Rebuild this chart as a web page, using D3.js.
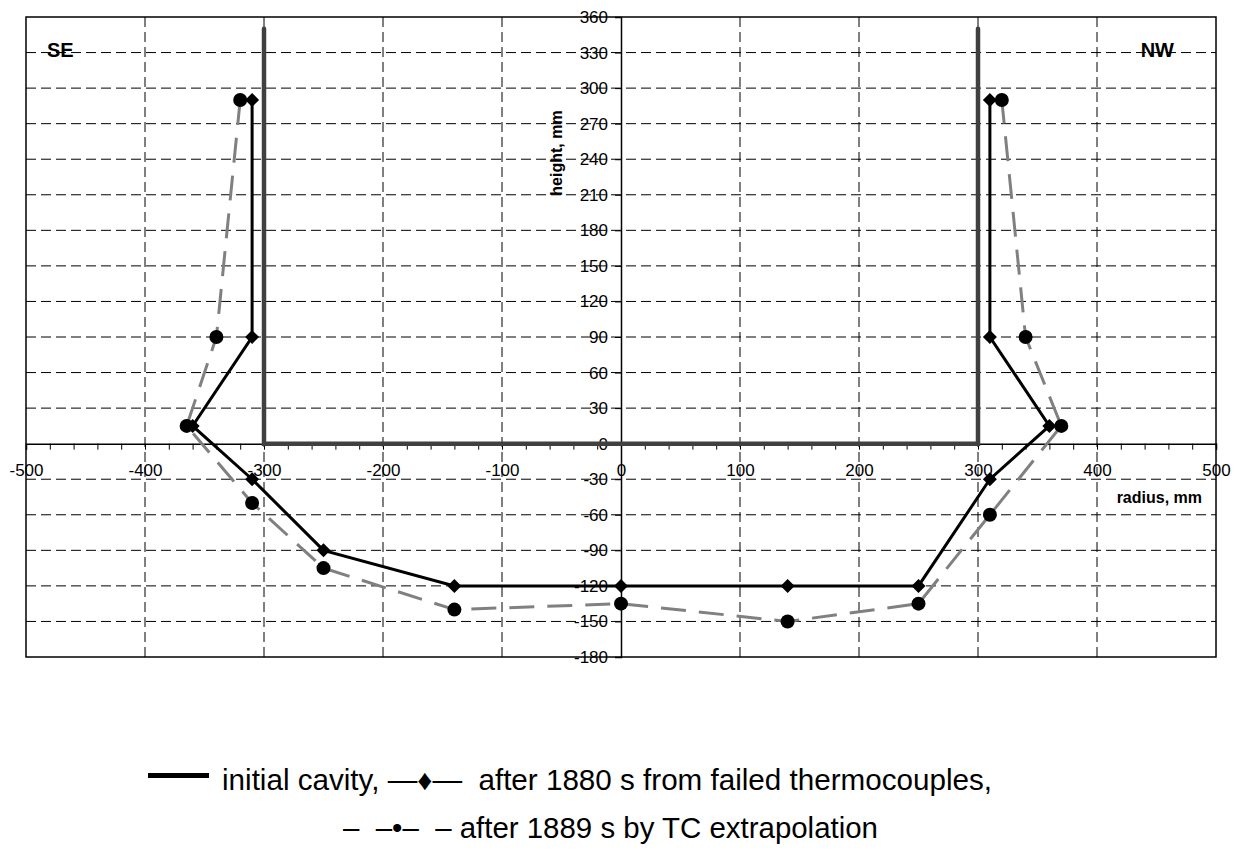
<!DOCTYPE html>
<html>
<head>
<meta charset="utf-8">
<script src="https://cdn.jsdelivr.net/npm/d3@7"></script>
<style>
  html, body { margin: 0; padding: 0; background: #fff; }
  svg { display: block; }
  text { font-family: "Liberation Sans", Arial, sans-serif; }
</style>
</head>
<body>
<svg id="chart" width="1242" height="851"></svg>
<script>
// ---- data ----
const xTicks = [-500, -400, -300, -200, -100, 0, 100, 200, 300, 400, 500];
const yTicks = [-180, -150, -120, -90, -60, -30, 0, 30, 60, 90, 120, 150, 180, 210, 240, 270, 300, 330, 360];

const cavityR = [-300, -300, 300, 300];
const cavityH = [350, 0, 0, 350];

const tcR = [-310, -310, -360, -310, -250, -140, 0, 140, 250, 310, 360, 310, 310];
const tcH = [290, 90, 15, -30, -90, -120, -120, -120, -120, -30, 15, 90, 290];

const exR = [-320, -340, -365, -310, -250, -140, 0, 140, 250, 310, 370, 340, 320];
const exH = [290, 90, 15, -50, -105, -140, -135, -150, -135, -60, 15, 90, 290];

const legendLine1 = "initial cavity, \u2014\u2666\u2014  after 1880 s from failed thermocouples,";
const legendLine2 = "\u2013  \u2013\u2022\u2013  \u2013 after 1889 s by TC extrapolation";

// ---- layout ----
const L = 26, R = 1216, T = 17, B = 657;
const svg = d3.select("#chart");
const x = d3.scaleLinear().domain([-500, 500]).range([L, R]);
const y = d3.scaleLinear().domain([-180, 360]).range([B, T]);
const fmt = d => String(d);

// grid
const grid = svg.append("g").attr("stroke", "#000").attr("stroke-width", 1).attr("stroke-dasharray", "10,5");
grid.selectAll("line.h").data(yTicks.filter(v => v !== 0 && v !== 360 && v !== -180)).enter()
  .append("line").attr("x1", L).attr("x2", R).attr("y1", d => y(d)).attr("y2", d => y(d));
grid.selectAll("line.v").data(xTicks.filter(v => v !== 0 && v !== -500 && v !== 500)).enter()
  .append("line").attr("y1", T).attr("y2", B).attr("x1", d => x(d)).attr("x2", d => x(d));

// frame
svg.append("rect").attr("x", L).attr("y", T).attr("width", R - L).attr("height", B - T)
  .attr("fill", "none").attr("stroke", "#000").attr("stroke-width", 1.5);

// x axis (minor ticks every 20)
const minor = d3.range(-500, 501, 20);
const xAxisMinor = d3.axisBottom(x).tickValues(minor).tickSize(6).tickFormat("");
const gxm = svg.append("g").attr("transform", `translate(0,${y(0)})`).call(xAxisMinor);
gxm.select(".domain").attr("stroke", "#000").attr("stroke-width", 1.5);
gxm.selectAll(".tick line").attr("stroke", "#000").attr("stroke-width", 1);

const xAxis = d3.axisBottom(x).tickValues(xTicks).tickSize(0).tickPadding(20).tickFormat(fmt);
const gx = svg.append("g").attr("transform", `translate(0,${y(0)})`).call(xAxis);
gx.select(".domain").remove();
gx.selectAll("text").attr("font-size", 17).attr("fill", "#000")
  .style("font-family", '"Liberation Sans", Arial, sans-serif');

// y axis
const yAxis = d3.axisLeft(y).tickValues(yTicks).tickSize(6).tickPadding(7).tickFormat(fmt);
const gy = svg.append("g").attr("transform", `translate(${x(0)},0)`).call(yAxis);
gy.select(".domain").attr("stroke", "#000").attr("stroke-width", 1.5);
gy.selectAll(".tick line").attr("stroke", "#000");
gy.selectAll("text").attr("font-size", 17).attr("fill", "#000")
  .style("font-family", '"Liberation Sans", Arial, sans-serif');

// axis titles
svg.append("text").attr("transform", `translate(${x(0) - 59},${153}) rotate(-90)`)
  .attr("text-anchor", "middle").attr("font-weight", "bold").attr("font-size", 16).text("height, mm");
svg.append("text").attr("x", 1202).attr("y", 503).attr("text-anchor", "end")
  .attr("font-weight", "bold").attr("font-size", 16).text("radius, mm");

// SE / NW
svg.append("text").attr("x", 47).attr("y", 57).attr("font-weight", "bold").attr("font-size", 20).text("SE");
svg.append("text").attr("x", 1174).attr("y", 57).attr("text-anchor", "end").attr("font-weight", "bold").attr("font-size", 20).text("NW");

// initial cavity
const cav = d3.range(cavityR.length).map(i => [cavityR[i], cavityH[i]]);
const line = d3.line().x(d => x(d[0])).y(d => y(d[1]));
svg.append("path").attr("d", line(cav)).attr("fill", "none").attr("stroke", "#404040")
  .attr("stroke-width", 4.5).attr("stroke-linecap", "round").attr("stroke-linejoin", "miter");

// extrapolation (gray dashed)
const ex = d3.range(exR.length).map(i => [exR[i], exH[i]]);
svg.append("path").attr("d", line(ex)).attr("fill", "none").attr("stroke", "#808080")
  .attr("stroke-width", 3).attr("stroke-dasharray", "25,13");

// thermocouples (black solid)
const tc = d3.range(tcR.length).map(i => [tcR[i], tcH[i]]);
svg.append("path").attr("d", line(tc)).attr("fill", "none").attr("stroke", "#000")
  .attr("stroke-width", 3).attr("stroke-linejoin", "miter");

svg.append("g").selectAll("circle").data(ex).enter().append("circle")
  .attr("cx", d => x(d[0])).attr("cy", d => y(d[1])).attr("r", 7).attr("fill", "#000");

const diamond = d3.symbol().type(d3.symbolSquare).size(98);
svg.append("g").selectAll("path").data(tc).enter().append("path")
  .attr("d", diamond).attr("fill", "#000")
  .attr("transform", d => `translate(${x(d[0])},${y(d[1])}) rotate(45)`);

// legend
svg.append("line").attr("x1", 148).attr("x2", 209).attr("y1", 775.5).attr("y2", 775.5)
  .attr("stroke", "#000").attr("stroke-width", 5);
svg.append("text").attr("x", 222).attr("y", 790).attr("font-size", 29)
  .attr("textLength", 770).attr("lengthAdjust", "spacingAndGlyphs")
  .style("white-space", "pre").text(legendLine1);
svg.append("text").attr("x", 343).attr("y", 838).attr("font-size", 29)
  .attr("textLength", 535).attr("lengthAdjust", "spacingAndGlyphs")
  .style("white-space", "pre").text(legendLine2);
</script>
</body>
</html>
